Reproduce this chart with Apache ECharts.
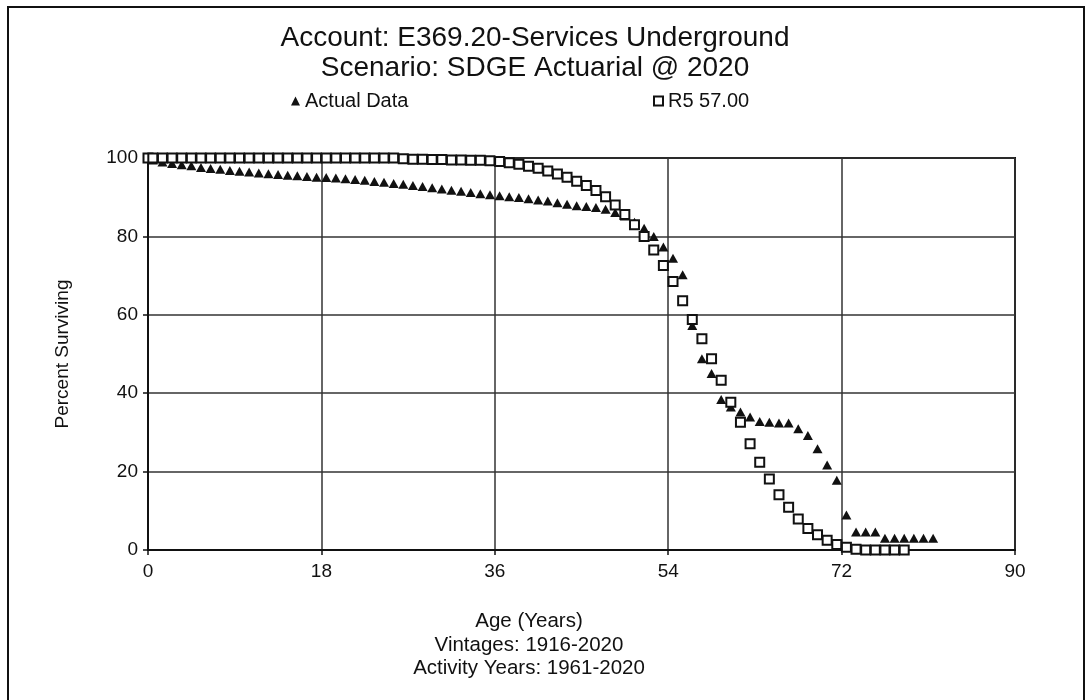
<!DOCTYPE html>
<html>
<head>
<meta charset="utf-8">
<script src="https://cdn.jsdelivr.net/npm/echarts@6/dist/echarts.min.js"></script>
<style>
  html, body { margin: 0; padding: 0; background: #fff; }
  #chart { width: 1092px; height: 700px; }
</style>
</head>
<body>
<div id="chart"></div>
<script>
// Survivor curve: observed retirement data vs. fitted Iowa R5 curve (57-year life)
const actualAges = [0, 0.5, 1.5, 2.5, 3.5, 4.5, 5.5, 6.5, 7.5, 8.5, 9.5, 10.5, 11.5, 12.5, 13.5, 14.5, 15.5, 16.5, 17.5, 18.5, 19.5,
  20.5, 21.5, 22.5, 23.5, 24.5, 25.5, 26.5, 27.5, 28.5, 29.5, 30.5, 31.5, 32.5, 33.5, 34.5, 35.5, 36.5, 37.5, 38.5, 39.5,
  40.5, 41.5, 42.5, 43.5, 44.5, 45.5, 46.5, 47.5, 48.5, 49.5, 50.5, 51.5, 52.5, 53.5, 54.5, 55.5, 56.5, 57.5, 58.5, 59.5,
  60.5, 61.5, 62.5, 63.5, 64.5, 65.5, 66.5, 67.5, 68.5, 69.5, 70.5, 71.5, 72.5, 73.5, 74.5, 75.5, 76.5, 77.5, 78.5, 79.5,
  80.5, 81.5];
const actualPct = [100, 99.5, 99.0, 98.6, 98.3, 98.0, 97.6, 97.3, 97.1, 96.8, 96.6, 96.4, 96.2, 96.0, 95.8, 95.6, 95.5, 95.3, 95.1, 95.0, 94.9,
  94.7, 94.5, 94.3, 94.0, 93.8, 93.5, 93.3, 93.0, 92.7, 92.4, 92.1, 91.8, 91.5, 91.2, 90.9, 90.6, 90.4, 90.1, 89.9, 89.6,
  89.3, 89.0, 88.6, 88.2, 87.8, 87.6, 87.4, 86.9, 86.1, 85.2, 83.6, 82.1, 80.0, 77.3, 74.4, 70.2, 57.3, 48.8, 45.0, 38.4,
  36.5, 35.2, 33.9, 32.8, 32.6, 32.4, 32.4, 30.9, 29.2, 25.8, 21.7, 17.8, 8.9, 4.6, 4.6, 4.6, 3.0, 3.0, 3.0, 3.0,
  3.0, 3.0];

const curveAges = [0, 0.5, 1.5, 2.5, 3.5, 4.5, 5.5, 6.5, 7.5, 8.5, 9.5, 10.5, 11.5, 12.5, 13.5, 14.5, 15.5, 16.5, 17.5, 18.5, 19.5,
  20.5, 21.5, 22.5, 23.5, 24.5, 25.5, 26.5, 27.5, 28.5, 29.5, 30.5, 31.5, 32.5, 33.5, 34.5, 35.5, 36.5, 37.5, 38.5, 39.5,
  40.5, 41.5, 42.5, 43.5, 44.5, 45.5, 46.5, 47.5, 48.5, 49.5, 50.5, 51.5, 52.5, 53.5, 54.5, 55.5, 56.5, 57.5, 58.5, 59.5,
  60.5, 61.5, 62.5, 63.5, 64.5, 65.5, 66.5, 67.5, 68.5, 69.5, 70.5, 71.5, 72.5, 73.5, 74.5, 75.5, 76.5, 77.5, 78.5];
const curvePct = [100, 100, 100, 100, 100, 100, 100, 100, 100, 100, 100, 100, 100, 100, 100, 100, 100, 100, 100, 100, 100,
  100, 100, 100, 100, 100, 100, 99.8, 99.7, 99.7, 99.6, 99.6, 99.5, 99.5, 99.4, 99.4, 99.3, 99.1, 98.8, 98.4, 97.9,
  97.4, 96.7, 95.9, 95.1, 94.1, 93.0, 91.7, 90.1, 88.0, 85.6, 83.0, 80.0, 76.5, 72.6, 68.5, 63.6, 58.8, 53.9, 48.8, 43.3,
  37.7, 32.6, 27.1, 22.4, 18.1, 14.1, 10.9, 7.9, 5.5, 3.9, 2.5, 1.4, 0.7, 0.2, 0, 0, 0, 0, 0];

const xTicks = [0, 18, 36, 54, 72, 90];
const yTicks = [0, 20, 40, 60, 80, 100];

const titleLines = ['Account: E369.20-Services Underground', 'Scenario: SDGE Actuarial @ 2020'];
const footerLines = ['Age (Years)', 'Vintages: 1916-2020', 'Activity Years: 1961-2020'];
const seriesNames = ['Actual Data', 'R5 57.00'];

const FONT = "'Liberation Sans', Arial, sans-serif";

const chart = echarts.init(document.getElementById('chart'), null, { renderer: 'canvas' });

const pairs = (xs, ys) => xs.map((x, i) => [x, ys[i]]);

const textEl = (text, x, y, size) => ({
  type: 'text', x: x, y: y, z: 10,
  style: { text: text, fontSize: size, fontFamily: FONT, fill: '#111', align: 'center', verticalAlign: 'middle' }
});

chart.setOption({
  backgroundColor: '#fff',
  animation: false,
  grid: { left: 148, right: 77, top: 158, bottom: 150, show: true, borderColor: '#111', borderWidth: 2, backgroundColor: 'transparent' },
  legend: [
    { data: [seriesNames[0]], left: 286, top: 86, itemWidth: 9, itemHeight: 9, itemGap: 6,
      textStyle: { fontSize: 20, fontFamily: FONT, color: '#111' } },
    { data: [seriesNames[1]], left: 648, top: 86, itemWidth: 9, itemHeight: 9, itemGap: 6,
      textStyle: { fontSize: 20, fontFamily: FONT, color: '#111' } }
  ],
  xAxis: {
    type: 'value', min: xTicks[0], max: xTicks[xTicks.length - 1], interval: 18,
    axisLine: { show: true, onZero: false, lineStyle: { color: '#111', width: 2 } },
    axisTick: { show: true, length: 5, lineStyle: { color: '#111', width: 1.5 } },
    axisLabel: { fontSize: 19, fontFamily: FONT, color: '#111', margin: 12,
      formatter: v => (xTicks.indexOf(v) >= 0 ? String(v) : '') },
    splitLine: { show: true, lineStyle: { color: '#333', width: 1.5 } }
  },
  yAxis: {
    type: 'value', min: yTicks[0], max: yTicks[yTicks.length - 1], interval: 20,
    name: 'Percent Surviving', nameLocation: 'middle', nameGap: 76, nameRotate: 90,
    nameTextStyle: { fontSize: 19, fontFamily: FONT, color: '#111' },
    axisLine: { show: true, lineStyle: { color: '#111', width: 2 } },
    axisTick: { show: true, length: 5, lineStyle: { color: '#111', width: 1.5 } },
    axisLabel: { fontSize: 19, fontFamily: FONT, color: '#111', margin: 10,
      formatter: v => (yTicks.indexOf(v) >= 0 ? String(v) : '') },
    splitLine: { show: true, lineStyle: { color: '#333', width: 1.5 } }
  },
  series: [
    {
      name: seriesNames[0], type: 'scatter', symbol: 'triangle', symbolSize: [10, 9],
      itemStyle: { color: '#111', opacity: 1 },
      data: pairs(actualAges, actualPct), z: 3
    },
    {
      name: seriesNames[1], type: 'scatter', symbol: 'rect', symbolSize: 9,
      itemStyle: { color: '#fff', borderColor: '#111', borderWidth: 2, opacity: 1 },
      data: pairs(curveAges, curvePct), z: 4
    }
  ],
  graphic: [
    { type: 'rect', shape: { x: 8, y: 7, width: 1076, height: 720 },
      style: { fill: 'none', stroke: '#111', lineWidth: 2 }, z: 0 },
    textEl(titleLines[0], 535, 38, 28),
    textEl(titleLines[1], 535, 68, 28),
    textEl(footerLines[0], 529, 621, 20.5),
    textEl(footerLines[1], 529, 645, 20.5),
    textEl(footerLines[2], 529, 668, 20.5)
  ]
});
</script>
</body>
</html>
